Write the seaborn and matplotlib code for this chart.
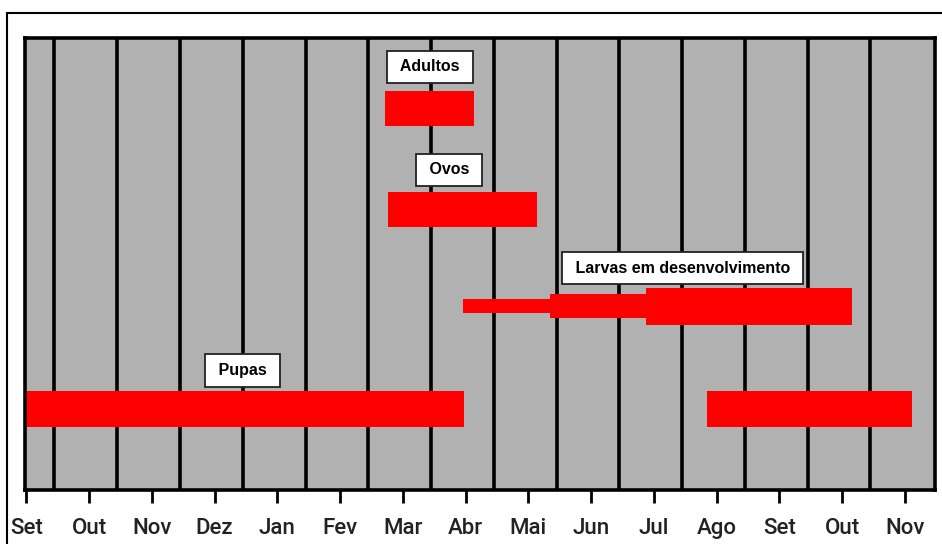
import matplotlib.pyplot as plt
import seaborn as sns
from matplotlib.lines import Line2D

# month axis (Set .. Nov of next year)
months = ["Set", "Out", "Nov", "Dez", "Jan", "Fev", "Mar", "Abr",
          "Mai", "Jun", "Jul", "Ago", "Set", "Out", "Nov"]

# life stages and the row they sit on
stages = ["Adultos", "Ovos", "Larvas em desenvolvimento", "Pupas"]
stage_y = [8.44, 6.21, 4.07, 1.79]
label_x = [6.43, 6.74, 10.46, 3.44]
label_y = [9.36, 7.08, 4.91, 2.65]

# bar segments (in months from the first "Set")
seg_stage = ["Adultos", "Ovos", "Larvas em desenvolvimento", "Larvas em desenvolvimento",
             "Larvas em desenvolvimento", "Pupas", "Pupas"]
seg_start = [5.72, 5.76, 6.96, 8.34, 9.87, 0.0, 10.84]
seg_end = [7.13, 8.14, 8.34, 9.87, 13.15, 6.97, 14.12]
seg_thick = [0.77, 0.77, 0.31, 0.53, 0.82, 0.80, 0.80]

sns.set_theme(style="white")
plt.rcParams["font.family"] = ["Liberation Sans", "DejaVu Sans"]

fig = plt.figure(figsize=(9.42, 5.44), dpi=100)
ax = fig.add_axes([25 / 942, 54 / 544, 910 / 942, 452 / 544])
ax.set_facecolor("#b1b1b1")

# month divider lines
for k in range(len(months) - 1):
    ax.axvline(k + 0.45, color="black", lw=2.6, zorder=1)

for name, s, e, h in zip(seg_stage, seg_start, seg_end, seg_thick):
    y = stage_y[stages.index(name)]
    ax.barh(y, e - s, left=s, height=h, color="#ff0000", lw=0, zorder=2)

for name, x, y in zip(stages, label_x, label_y):
    ax.text(x, y, f" {name} ", ha="center", va="center", fontsize=11.5,
            fontweight="bold", color="black", zorder=4,
            bbox=dict(boxstyle="square,pad=0.55", fc="white", ec="#222222", lw=1.3))

ax.set_xlim(-0.02, 14.48)
ax.set_ylim(0, 10)
ax.set_yticks([])
ax.set_xticks(range(len(months)))
ax.set_xticklabels(months, fontsize=16, family=["Roboto", "Liberation Sans"],
                   fontweight="medium", color="#222222")
ax.tick_params(axis="x", bottom=True, direction="out", length=9.5, width=2,
               color="black", pad=11)
for sp in ax.spines.values():
    sp.set_color("black")
    sp.set_linewidth(2.6)

# outer frame of the original figure
fig.add_artist(Line2D([7 / 942, 1.0], [1 - 13 / 544, 1 - 13 / 544],
                      transform=fig.transFigure, color="black", lw=1.5))
fig.add_artist(Line2D([7 / 942, 7 / 942], [0.0, 1 - 13 / 544],
                      transform=fig.transFigure, color="black", lw=1.5))

fig.savefig("out.png", dpi=100, facecolor="white")
